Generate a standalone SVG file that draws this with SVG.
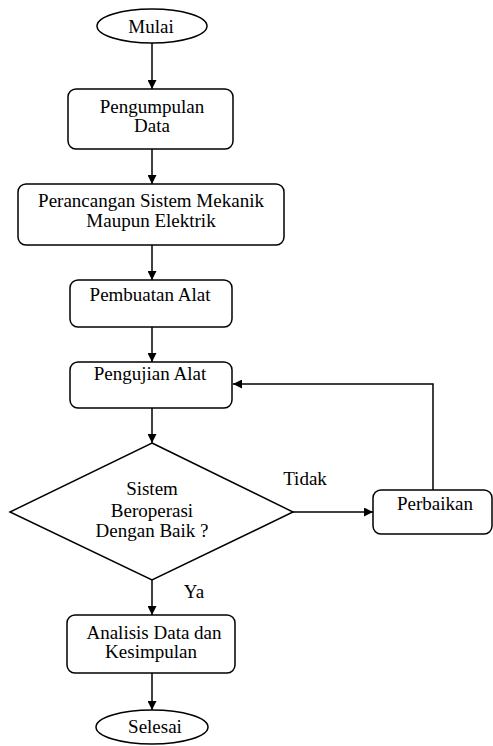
<svg xmlns="http://www.w3.org/2000/svg" width="493" height="746" viewBox="0 0 493 746">
<style>
.s{fill:#fff;stroke:#000;stroke-width:1.5}
.t{font-family:"Liberation Serif","Times New Roman",serif;font-size:19px;fill:#000;text-anchor:middle}
.c{fill:none;stroke:#000;stroke-width:1.5}
</style>
<defs>
<marker id="a" viewBox="0 0 10 10" refX="10" refY="5" markerWidth="9" markerHeight="9" markerUnits="userSpaceOnUse" orient="auto"><path d="M0,0L10,5L0,10z" fill="#000"/></marker>
</defs>
<rect width="493" height="746" fill="#fff"/>
<g id="connectors">
<line class="c" x1="152" y1="43" x2="152" y2="89" marker-end="url(#a)"/>
<line class="c" x1="152" y1="149" x2="152" y2="184" marker-end="url(#a)"/>
<line class="c" x1="152" y1="245" x2="152" y2="280" marker-end="url(#a)"/>
<line class="c" x1="152" y1="327" x2="152" y2="362" marker-end="url(#a)"/>
<line class="c" x1="152" y1="408" x2="152" y2="443" marker-end="url(#a)"/>
<line class="c" x1="293" y1="512" x2="373" y2="512" marker-end="url(#a)"/>
<polyline class="c" points="433,490 433,384 233,384" marker-end="url(#a)"/>
<line class="c" x1="152" y1="580" x2="152" y2="615" marker-end="url(#a)"/>
<line class="c" x1="152" y1="673" x2="152" y2="710" marker-end="url(#a)"/>
<text class="t" x="305" y="485">Tidak</text>
<text class="t" x="194" y="598">Ya</text>
</g>
<g id="mulai"><ellipse class="s" cx="152" cy="26" rx="55" ry="17"/><text class="t" x="151" y="33">Mulai</text></g>
<g id="pengumpulan"><rect class="s" x="68" y="89" width="165" height="60" rx="8"/><text class="t" x="152" y="113">Pengumpulan</text><text class="t" x="152" y="132">Data</text></g>
<g id="perancangan"><rect class="s" x="18" y="184" width="266" height="61" rx="8"/><text class="t" x="151" y="207">Perancangan Sistem Mekanik</text><text class="t" x="151" y="227">Maupun Elektrik</text></g>
<g id="pembuatan"><rect class="s" x="70" y="280" width="162" height="47" rx="8"/><text class="t" x="150" y="301">Pembuatan Alat</text></g>
<g id="pengujian"><rect class="s" x="70" y="362" width="162" height="46" rx="8"/><text class="t" x="150" y="380">Pengujian Alat</text></g>
<g id="keputusan"><polygon class="s" points="152,443 293,512 152,580 10,512"/><text class="t" x="152" y="495">Sistem</text><text class="t" x="152" y="517">Beroperasi</text><text class="t" x="152" y="537">Dengan Baik ?</text></g>
<g id="perbaikan"><rect class="s" x="373" y="490" width="119" height="44" rx="8"/><text class="t" x="435" y="510">Perbaikan</text></g>
<g id="analisis"><rect class="s" x="67" y="615" width="168" height="58" rx="8"/><text class="t" x="154" y="639">Analisis Data dan</text><text class="t" x="151" y="658">Kesimpulan</text></g>
<g id="selesai"><ellipse class="s" cx="152" cy="727" rx="56" ry="17"/><text class="t" x="155" y="733">Selesai</text></g>
</svg>
